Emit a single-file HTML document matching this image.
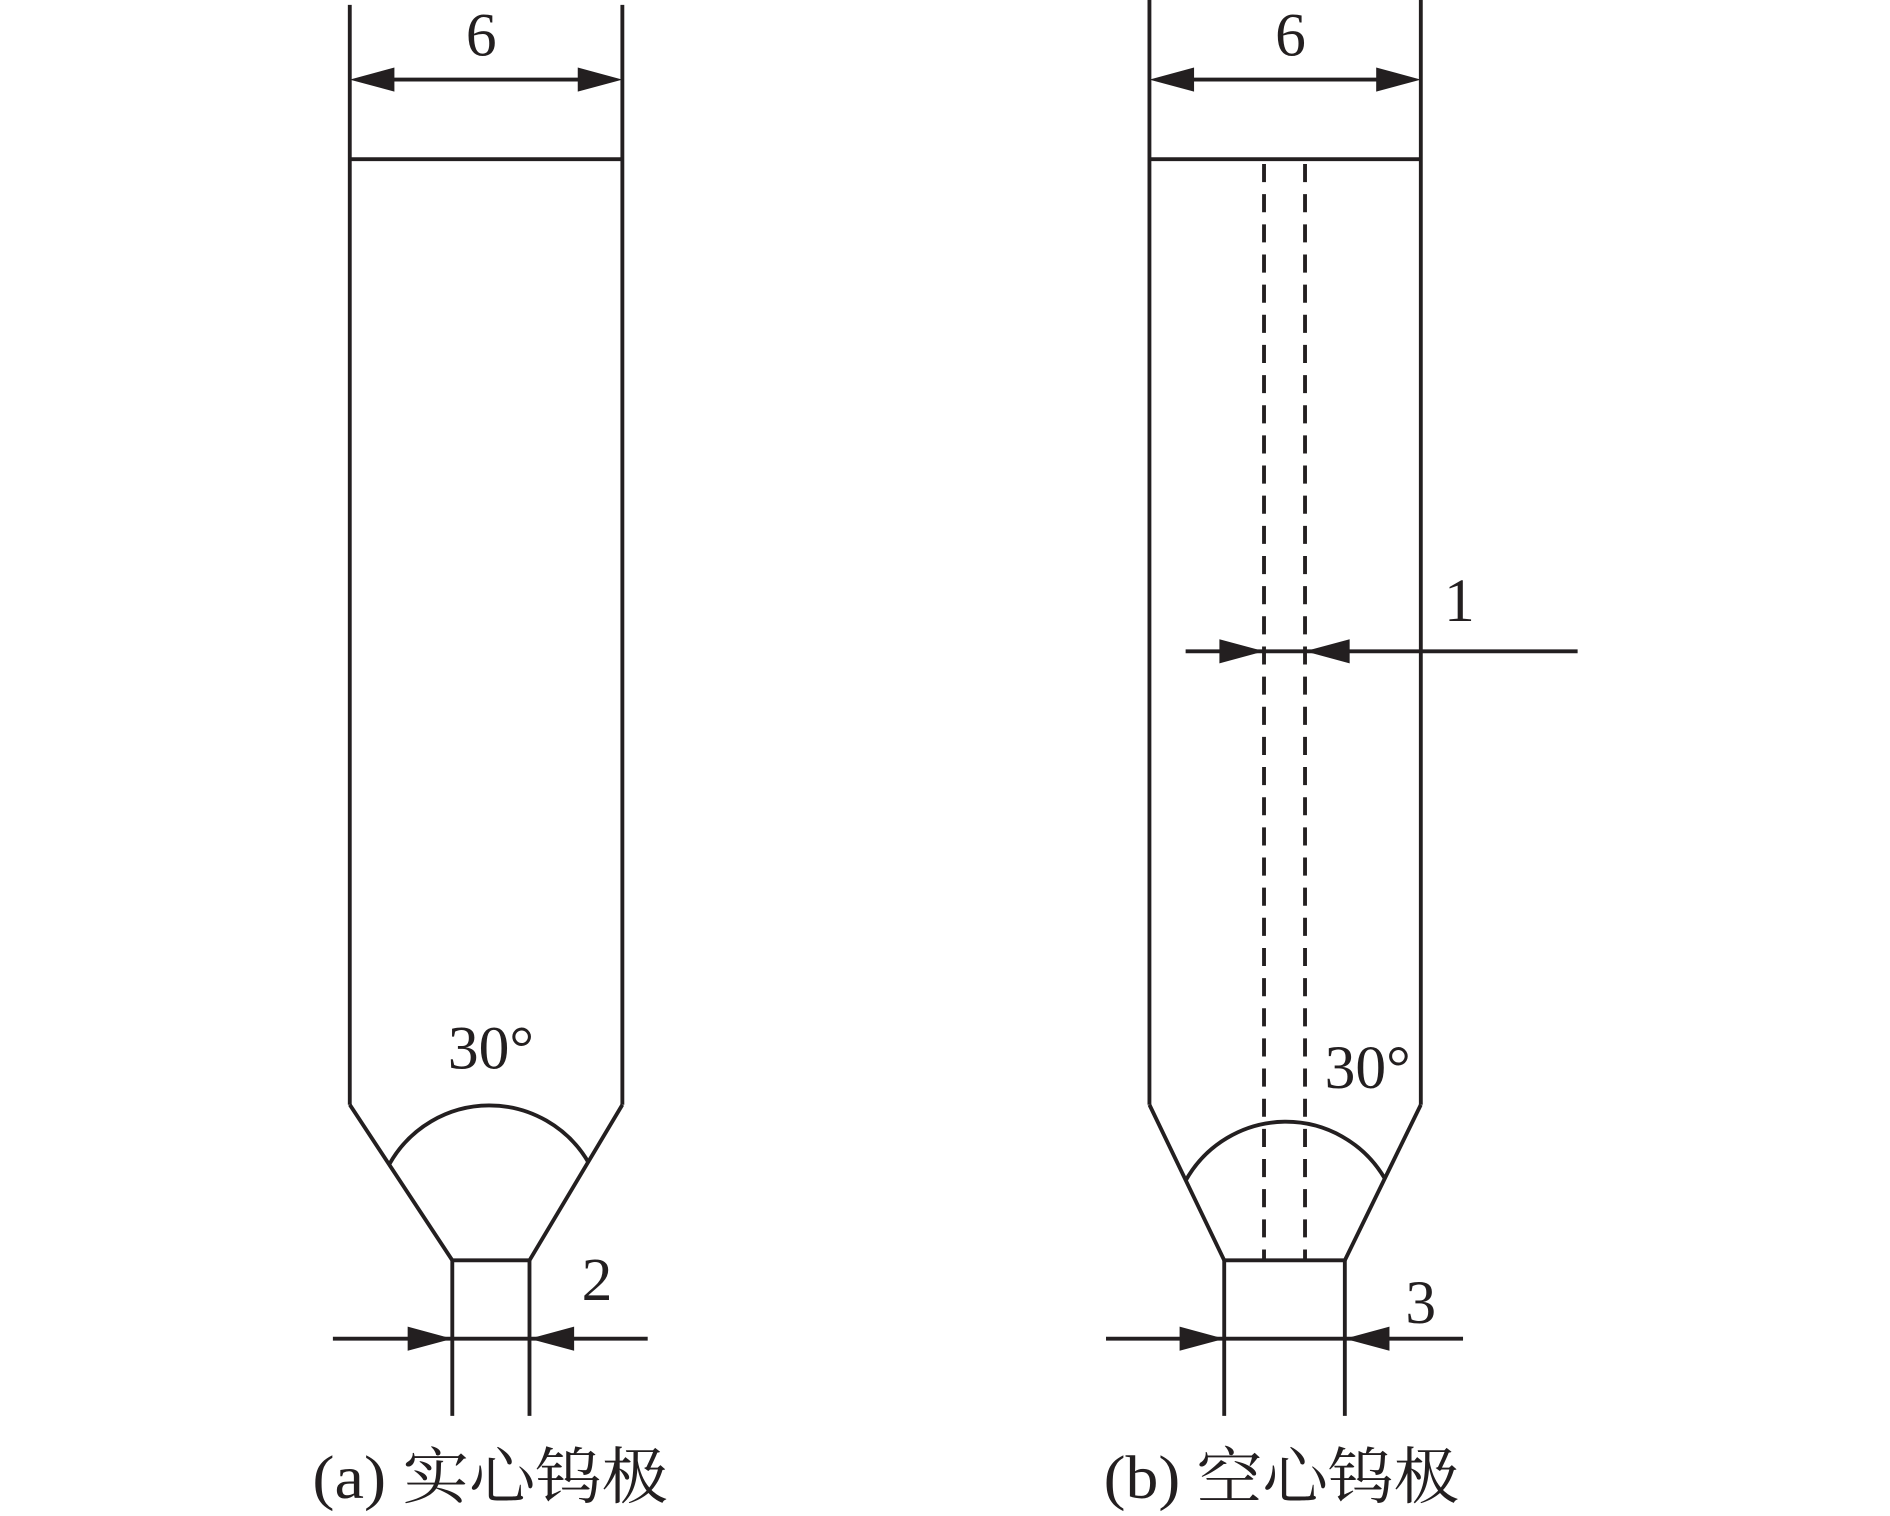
<!DOCTYPE html>
<html><head><meta charset="utf-8"><style>
html,body{margin:0;padding:0;background:#fff;}
svg{display:block;}
</style></head><body>
<svg width="1890" height="1516" viewBox="0 0 1567 1257" preserveAspectRatio="none" xmlns="http://www.w3.org/2000/svg">
<g stroke="#231f20" stroke-width="3.2" fill="none">
<line x1="290" y1="4" x2="290" y2="916"/>
<line x1="516" y1="4" x2="516" y2="916"/>
<line x1="290" y1="132" x2="516" y2="132"/>
<line x1="320" y1="66" x2="486" y2="66"/>
<polyline points="290,916 375,1045 439,1045 516,916"/>
<line x1="375" y1="1045" x2="375" y2="1174"/>
<line x1="439" y1="1045" x2="439" y2="1174"/>
<line x1="276" y1="1110" x2="537" y2="1110"/>
<path d="M323,965 A95,95 0 0 1 488,964"/>
<line x1="953" y1="0" x2="953" y2="916"/>
<line x1="1178" y1="0" x2="1178" y2="916"/>
<line x1="953" y1="132" x2="1178" y2="132"/>
<line x1="983" y1="66" x2="1148" y2="66"/>
<polyline points="953,916 1015,1045 1115,1045 1178,916"/>
<line x1="1015" y1="1045" x2="1015" y2="1174"/>
<line x1="1115" y1="1045" x2="1115" y2="1174"/>
<line x1="917" y1="1110" x2="1213" y2="1110"/>
<path d="M983,979 A95,95 0 0 1 1148,977"/>
<line x1="1048" y1="136" x2="1048" y2="1045" stroke-dasharray="15,10"/>
<line x1="1082" y1="136" x2="1082" y2="1045" stroke-dasharray="15,10"/>
<line x1="983" y1="540" x2="1308" y2="540"/>
</g>
<g fill="#231f20">
<polygon points="290,66 327,56 327,76"/>
<polygon points="516,66 479,56 479,76"/>
<polygon points="375,1110 338,1100 338,1120"/>
<polygon points="439,1110 476,1100 476,1120"/>
<polygon points="953,66 990,56 990,76"/>
<polygon points="1178,66 1141,56 1141,76"/>
<polygon points="1015,1110 978,1100 978,1120"/>
<polygon points="1115,1110 1152,1100 1152,1120"/>
<polygon points="1048,540 1011,530 1011,550"/>
<polygon points="1082,540 1119,530 1119,550"/>
</g>
<g fill="#231f20" font-family="Liberation Serif, 'Noto Serif CJK SC', serif" font-size="51">
<text x="399" y="46" text-anchor="middle">6</text>
<text x="1070" y="46" text-anchor="middle">6</text>
<text x="407" y="886" text-anchor="middle">30°</text>
<text x="1134" y="902" text-anchor="middle">30°</text>
<text x="495" y="1078" text-anchor="middle">2</text>
<text x="1178" y="1097" text-anchor="middle">3</text>
<text x="1210" y="515" text-anchor="middle">1</text>
<text x="259" y="1242" textLength="295" lengthAdjust="spacingAndGlyphs">(a) 实心钨极</text>
<text x="915" y="1242" textLength="295" lengthAdjust="spacingAndGlyphs">(b) 空心钨极</text>
</g>
</svg>
</body></html>
